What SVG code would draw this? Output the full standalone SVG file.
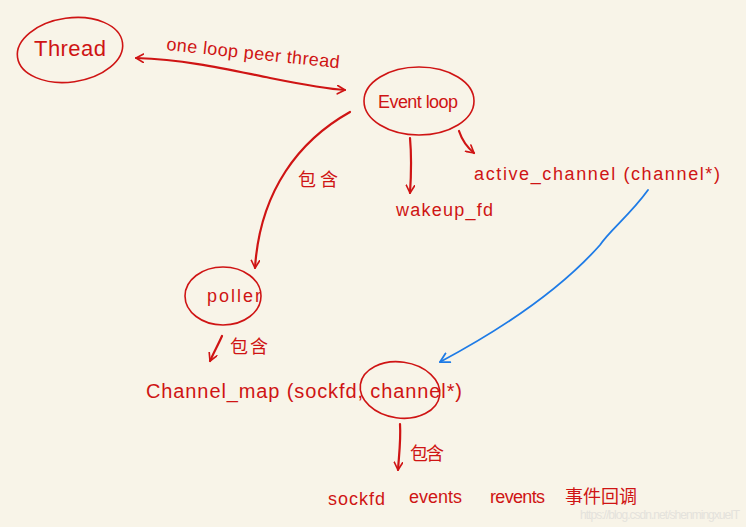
<svg xmlns="http://www.w3.org/2000/svg" width="746" height="532" viewBox="0 0 746 532">
<defs>
<style>
.bg{fill:#f8f4e8}
.n{fill:none;stroke:#cf1414;stroke-width:1.6}
.c{fill:none;stroke:#cf1414;stroke-width:2.2;stroke-linecap:round}
.cb{fill:none;stroke:#1e7be6;stroke-width:1.8;stroke-linecap:round}
.t{font-family:"Liberation Sans","Noto Sans CJK SC",sans-serif;fill:#cf1414}
.wm{font-family:"Liberation Sans",sans-serif;fill:#e4e2dc;font-size:12px}
</style>
<marker id="ar" viewBox="0 0 12 12" refX="10" refY="6" markerWidth="10" markerHeight="10" markerUnits="userSpaceOnUse" orient="auto-start-reverse">
<polyline points="1,1 10,6 1,11" fill="none" stroke="#cf1414" stroke-width="2" stroke-linecap="round" stroke-linejoin="round"/>
</marker>
<marker id="ab" viewBox="0 0 12 12" refX="10" refY="6" markerWidth="12" markerHeight="12" markerUnits="userSpaceOnUse" orient="auto">
<polyline points="1,1 10,6 1,11" fill="none" stroke="#1e7be6" stroke-width="1.8" stroke-linecap="round" stroke-linejoin="round"/>
</marker>
</defs>
<rect x="0" y="0" width="746" height="532" fill="#ffffff"/>
<rect class="bg" x="0" y="0" width="746" height="527"/>

<g id="connectors">
<path class="c" d="M136,58 C190,60 230,70 270,78 C300,84 325,89 345,90" marker-start="url(#ar)" marker-end="url(#ar)"/>
<path class="c" d="M350,112 C300,140 260,190 255,268" marker-end="url(#ar)"/>
<path class="c" d="M410,138 C412,160 411,178 410,193" marker-end="url(#ar)"/>
<path class="c" d="M459,131 C462,140 468,148 474,153" marker-end="url(#ar)"/>
<path class="cb" d="M648,190 C630,215 610,230 600,245 C560,290 500,330 440,362" marker-end="url(#ab)"/>
<path class="c" d="M222,336 C218,345 214,352 210,361" marker-end="url(#ar)"/>
<path class="c" d="M400,424 C401,440 399,455 398,470" marker-end="url(#ar)"/>
</g>

<g id="thread">
<ellipse class="n" cx="70" cy="50" rx="53" ry="32" transform="rotate(-8 70 50)"/>
<text class="t" x="70" y="56" font-size="22" text-anchor="middle" textLength="72">Thread</text>
</g>

<g id="label-peer">
<text class="t" x="166" y="50" font-size="18" textLength="174" transform="rotate(6 166 50)">one loop peer thread</text>
</g>

<g id="eventloop">
<ellipse class="n" cx="419" cy="101" rx="55" ry="34"/>
<text class="t" x="418" y="108" font-size="18" text-anchor="middle" textLength="80">Event loop</text>
</g>

<g id="wakeup">
<text class="t" x="396" y="216" font-size="18" textLength="97">wakeup_fd</text>
</g>

<g id="active">
<text class="t" x="474" y="180" font-size="18" textLength="246">active_channel (channel*)</text>
</g>

<g id="label-contain1">
<text class="t" x="298" y="186" font-size="18" textLength="40">包含</text>
</g>

<g id="poller">
<ellipse class="n" cx="223" cy="296" rx="38" ry="29"/>
<text class="t" x="234" y="302" font-size="18" text-anchor="middle" textLength="54">poller</text>
</g>

<g id="label-contain2">
<text class="t" x="230" y="353" font-size="18" textLength="38">包含</text>
</g>

<g id="channelmap">
<text class="t" x="146" y="398" font-size="20" textLength="316">Channel_map (sockfd, channel*)</text>
<ellipse class="n" cx="400" cy="390" rx="40" ry="28" transform="rotate(8 400 390)"/>
</g>

<g id="label-contain3">
<text class="t" x="410" y="460" font-size="18" textLength="34">包含</text>
</g>

<g id="fields">
<text class="t" x="328" y="505" font-size="18" textLength="57">sockfd</text>
<text class="t" x="409" y="503" font-size="18" textLength="53">events</text>
<text class="t" x="490" y="503" font-size="18" textLength="55">revents</text>
<text class="t" x="565" y="503" font-size="18" textLength="72">事件回调</text>
</g>

<text class="wm" x="740" y="519" text-anchor="end" textLength="160">https://blog.csdn.net/shenmingxueIT</text>
</svg>
